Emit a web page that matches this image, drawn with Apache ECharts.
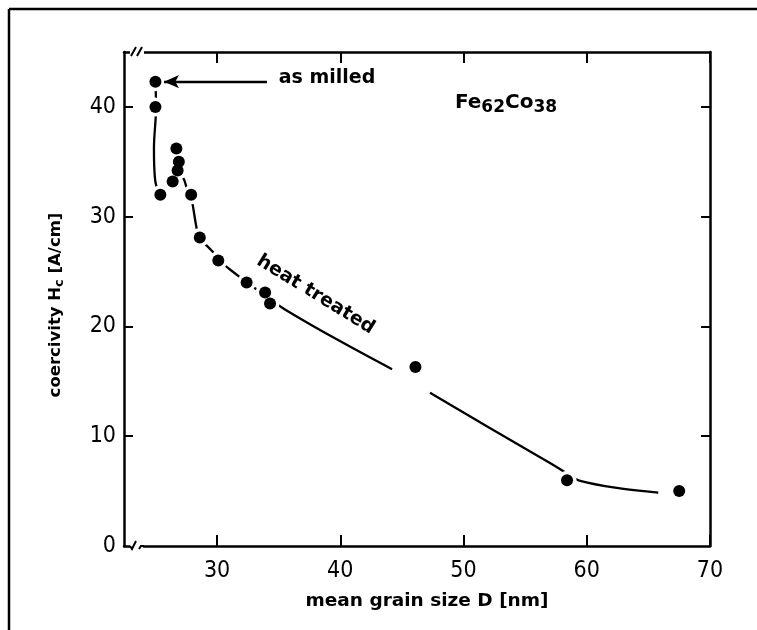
<!DOCTYPE html>
<html><head><meta charset="utf-8">
<script src="https://cdn.jsdelivr.net/npm/echarts@6/dist/echarts.min.js"></script>
<style>html,body{margin:0;padding:0;background:#fff}#c{width:757px;height:630px}</style>
</head><body><div id="c"></div>
<script>
// measured points
const grainSize  = [25.0, 25.0, 25.4, 26.4, 26.7, 26.9, 26.8, 27.9, 28.6, 30.1, 32.4, 33.9, 34.3, 46.1, 58.4, 67.5];
const coercivity = [42.3, 40.0, 32.0, 33.2, 36.2, 35.0, 34.2, 32.0, 28.1, 26.0, 24.0, 23.1, 22.1, 16.3, 6.0, 5.0];
// hand-drawn trend curve, two pieces
const fitX1 = [25.0, 25.05, 24.88, 24.97, 25.23, 25.61, 26.4, 26.83, 27.26, 27.58, 27.86, 28.35, 28.56, 29.65, 30.13, 31.72, 32.35, 33.48, 34.3, 35.51, 39.75, 44.2];
const fitY1 = [42.3, 40.0, 36.2, 33.4, 32.5, 32.4, 33.15, 33.8, 33.5, 32.5, 32.0, 28.9, 28.1, 26.8, 26.05, 24.6, 24.0, 23.2, 22.5, 21.55, 18.8, 16.1];
const fitX2 = [47.28, 52.2, 57.15, 58.4, 59.39, 62.7, 65.8];
const fitY2 = [13.95, 10.7, 7.46, 6.6, 5.96, 5.25, 4.87];
// tick labels
const xTicks = [30, 40, 50, 60, 70];
const yTicks = [0, 10, 20, 30, 40];
// annotation anchors (data units)
const arrowFrom = [34.05, 42.3];
const arrowTo   = [25.7, 42.3];

const chart = echarts.init(document.getElementById('c'));
const pts = grainSize.map((x, i) => [x, coercivity[i]]);
const fit1 = fitX1.map((x, i) => [x, fitY1[i]]);
const fit2 = fitX2.map((x, i) => [x, fitY2[i]]);

const XMIN = 22.45, XMAX = 70, YMIN = 0, YMAX = 45;
const axisCol = '#000';
const tickFont = "'Liberation Sans Narrow','DejaVu Sans Condensed','Liberation Sans',sans-serif";
function xAx(pos, showLabel) {
  return {
    type: 'value', position: pos, min: XMIN, max: XMAX,
    axisLine: { show: true, onZero: false, lineStyle: { color: axisCol, width: 2.5 } },
    axisTick: { show: true, inside: true, length: 11, customValues: xTicks, lineStyle: { color: axisCol, width: 2 } },
    axisLabel: { show: showLabel, customValues: xTicks, margin: 14, color: '#000', fontSize: 23, fontFamily: tickFont },
    splitLine: { show: false }
  };
}
function yAx(pos, showLabel) {
  return {
    type: 'value', position: pos, min: YMIN, max: YMAX,
    axisLine: { show: true, onZero: false, lineStyle: { color: axisCol, width: 2.5 } },
    axisTick: { show: true, inside: true, length: 9, customValues: yTicks.slice(1), lineStyle: { color: axisCol, width: 2 } },
    axisLabel: { show: showLabel, customValues: yTicks, margin: 8, color: '#000', fontSize: 23, fontFamily: tickFont },
    splitLine: { show: false }
  };
}

chart.setOption({
  animation: false,
  backgroundColor: '#fff',
  grid: { left: 124, right: 47, top: 52, bottom: 84, containLabel: false },
  xAxis: [xAx('bottom', true), xAx('top', false)],
  yAxis: [yAx('left', true), yAx('right', false)],
  series: [
    { type: 'line', data: fit1, smooth: 0.35, symbol: 'none', lineStyle: { color: '#000', width: 2.3 }, z: 2 },
    { type: 'line', data: fit2, smooth: 0.35, symbol: 'none', lineStyle: { color: '#000', width: 2.3 }, z: 2 },
    { type: 'scatter', data: pts, symbolSize: 19, itemStyle: { color: '#fff', opacity: 1 }, z: 3, silent: true },
    { type: 'scatter', data: pts, symbolSize: 12, itemStyle: { color: '#000', opacity: 1 }, z: 4,
      markLine: {
        silent: true, symbol: ['none', 'arrow'], symbolSize: [10, 15],
        lineStyle: { color: '#000', width: 2.3, type: 'solid', opacity: 1 }, label: { show: false },
        data: [[{ coord: arrowFrom }, { coord: arrowTo }]]
      }
    }
  ]
});

function px(p) { return chart.convertToPixel({ xAxisIndex: 0, yAxisIndex: 0 }, p); }
const boldFont = "'DejaVu Sans',sans-serif";
const tl = px([XMIN, YMAX]);
const bl = px([XMIN, YMIN]);
const heat = px([38.0, 22.9]);
const milled = px([35.0, 42.6]);
const alloy = px([49.3, 40.4]);

chart.setOption({
  graphic: [
    // outer frame
    { type: 'line', shape: { x1: 9, y1: 9, x2: 757, y2: 9 }, style: { stroke: '#000', lineWidth: 2.5 } },
    { type: 'line', shape: { x1: 9, y1: 9, x2: 9, y2: 630 }, style: { stroke: '#000', lineWidth: 2.5 } },
    // axis breaks
    { type: 'rect', shape: { x: tl[0] + 6, y: tl[1] - 4, width: 14, height: 8 }, style: { fill: '#fff' }, z: 100 },
    { type: 'line', shape: { x1: tl[0] + 7, y1: tl[1] + 4, x2: tl[0] + 12, y2: tl[1] - 5 }, style: { stroke: '#000', lineWidth: 2 }, z: 101 },
    { type: 'line', shape: { x1: tl[0] + 13, y1: tl[1] + 4, x2: tl[0] + 18, y2: tl[1] - 5 }, style: { stroke: '#000', lineWidth: 2 }, z: 101 },
    { type: 'rect', shape: { x: bl[0] + 6, y: bl[1] - 4, width: 13, height: 8 }, style: { fill: '#fff' }, z: 100 },
    { type: 'polyline', shape: { points: [[bl[0] + 6, bl[1]], [bl[0] + 8, bl[1] + 3], [bl[0] + 12, bl[1] - 5]] }, style: { stroke: '#000', lineWidth: 2, fill: null }, z: 101 },
    { type: 'polyline', shape: { points: [[bl[0] + 15, bl[1] + 3], [bl[0] + 17, bl[1]], [bl[0] + 20, bl[1]]] }, style: { stroke: '#000', lineWidth: 2, fill: null }, z: 101 },
    // annotations
    { type: 'text', x: milled[0], y: milled[1], style: { text: 'as milled', font: "bold 19px " + boldFont, fill: '#000', textAlign: 'left', textVerticalAlign: 'middle' }, z: 50 },
    { type: 'text', x: heat[0], y: heat[1], rotation: -31.5 * Math.PI / 180,
      style: { text: 'heat treated', font: "bold 19px " + boldFont, fill: '#000', textAlign: 'center', textVerticalAlign: 'middle' }, z: 50 },
    { type: 'text', x: alloy[0], y: alloy[1],
      style: { text: 'Fe{s|62}Co{s|38}', fill: '#000', font: "bold 20px " + boldFont, textAlign: 'left', textVerticalAlign: 'middle',
        rich: { s: { fontSize: 17, fontWeight: 'bold', fontFamily: boldFont, padding: [10, 0, 0, 0] } } }, z: 50 },
    // axis titles
    { type: 'text', x: 427, y: 601,
      style: { text: 'mean grain size D [nm]', font: "bold 18.5px " + boldFont, fill: '#000', textAlign: 'center', textVerticalAlign: 'middle' }, z: 50 },
    { type: 'text', x: 56, y: 305, rotation: Math.PI / 2,
      style: { text: 'coercivity H{s|c} [A/cm]', fill: '#000', font: "bold 16.5px " + boldFont, textAlign: 'center', textVerticalAlign: 'middle',
        rich: { s: { fontSize: 13, fontWeight: 'bold', fontFamily: boldFont, padding: [8, 0, 0, 0] } } }, z: 50 }
  ]
});
</script></body></html>
